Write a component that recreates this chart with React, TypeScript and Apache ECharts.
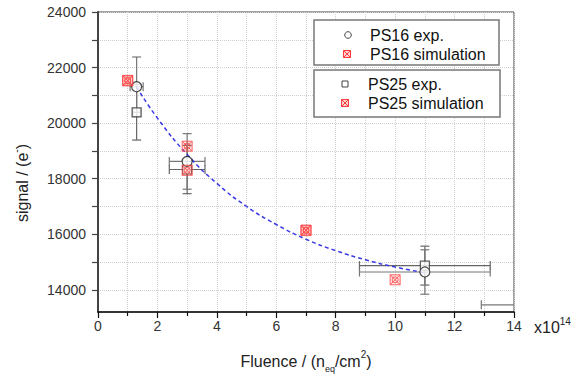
import React, { useEffect, useRef } from 'react';
import * as echarts from 'echarts';

const FONT = '"Liberation Sans", Arial, Helvetica, sans-serif';

// PS16 experimental (circles)
const ps16ExpX = [1.3, 3.0, 11.0];
const ps16ExpY = [21310, 18620, 14640];
const ps16ExpXErr = [0.22, 0.6, 2.2];
const ps16ExpYErr = [1070, 1000, 800];

// PS25 experimental (squares)
const ps25ExpX = [1.3, 3.0, 11.0];
const ps25ExpY = [20390, 18330, 14870];
const ps25ExpXErr = [0.13, 0.6, 2.2];
const ps25ExpYErr = [1000, 870, 700];

// point outside the axis range; only part of its error bar shows
const offX = [15.1];
const offY = [13460];
const offXErr = [2.2];
const offYErr = [0];

// simulations
const ps16SimX = [1.0, 3.0, 7.0, 10.0];
const ps16SimY = [21540, 19170, 16130, 14360];
const ps25SimX = [1.0, 3.0, 7.0];
const ps25SimY = [21520, 18300, 16150];

// dashed fit curve
const fitX = [1.3, 2, 3, 4, 5, 6, 7, 8, 9, 10, 11];
const fitY = [21300, 20180, 18870, 17830, 17000, 16350, 15820, 15410, 15080, 14820, 14610];

// axis ticks
const yTickValues = [14000, 15000, 16000, 17000, 18000, 19000, 20000, 21000, 22000, 23000, 24000];
const yLabelValues = [14000, 16000, 18000, 20000, 22000, 24000];

const zip = (xs: number[], ys: number[]) => xs.map((x, i) => [x, ys[i]]);
const zip4 = (a: number[], b: number[], c: number[], d: number[]) => a.map((x, i) => [x, b[i], c[i], d[i]]);

const SIM_PATH = 'path://M0,0L20,0L20,20L0,20Z M0,0L20,20 M20,0L0,20 M16,10A6,6,0,1,1,4,10A6,6,0,1,1,16,10Z';

function errorBarSeries(data: number[][], color: string) {
  return {
    type: 'custom',
    clip: true,
    z: 1,
    silent: true,
    encode: { x: 0, y: 1 },
    data,
    renderItem: (params: any, api: any) => {
      const x = api.value(0);
      const y = api.value(1);
      const xe = api.value(2);
      const ye = api.value(3);
      const style = { stroke: color, lineWidth: 1.2, fill: 'none' };
      const cap = 4.5;
      const children: any[] = [];
      if (ye > 0) {
        const t = api.coord([x, y + ye]);
        const b = api.coord([x, y - ye]);
        children.push({ type: 'line', shape: { x1: t[0], y1: t[1], x2: b[0], y2: b[1] }, style });
        children.push({ type: 'line', shape: { x1: t[0] - cap, y1: t[1], x2: t[0] + cap, y2: t[1] }, style });
        children.push({ type: 'line', shape: { x1: b[0] - cap, y1: b[1], x2: b[0] + cap, y2: b[1] }, style });
      }
      if (xe > 0) {
        const l = api.coord([x - xe, y]);
        const r = api.coord([x + xe, y]);
        children.push({ type: 'line', shape: { x1: l[0], y1: l[1], x2: r[0], y2: r[1] }, style });
        children.push({ type: 'line', shape: { x1: l[0], y1: l[1] - cap, x2: l[0], y2: l[1] + cap }, style });
        children.push({ type: 'line', shape: { x1: r[0], y1: r[1] - cap, x2: r[0], y2: r[1] + cap }, style });
      }
      return { type: 'group', children };
    },
  };
}

function simIcon(x: number, y: number, s: number) {
  const h = s / 2;
  const st = { stroke: '#ff3b3b', lineWidth: 1, fill: 'none' };
  return [
    { type: 'rect', z: 100, shape: { x: x - h, y: y - h, width: s, height: s }, style: { stroke: '#ff3b3b', lineWidth: 1, fill: 'rgba(255,80,80,0.25)' } },
    { type: 'line', z: 101, shape: { x1: x - h, y1: y - h, x2: x + h, y2: y + h }, style: st },
    { type: 'line', z: 101, shape: { x1: x + h, y1: y - h, x2: x - h, y2: y + h }, style: st },
  ];
}

export default function App() {
  const ref = useRef<HTMLDivElement>(null);

  useEffect(() => {
    if (!ref.current) return;
    const chart = echarts.init(ref.current, undefined, { renderer: 'svg' });
    const legendText = (x: number, y: number, t: string) => ({
      type: 'text',
      x,
      y,
      style: { text: t, font: `16px ${FONT}`, fill: '#111', align: 'left', verticalAlign: 'middle' },
      z: 100,
    });

    chart.setOption({
      animation: false,
      backgroundColor: '#fff',
      grid: { left: 98, right: 73, top: 12, bottom: 69, show: true, borderColor: '#444', borderWidth: 1, backgroundColor: 'transparent' },
      xAxis: {
        type: 'value',
        min: 0,
        max: 14,
        interval: 2,
        axisLine: { show: true, lineStyle: { color: '#111', width: 1.5 } },
        axisTick: { show: true, length: 6, lineStyle: { color: '#111', width: 1.2 } },
        minorTick: { show: true, splitNumber: 2, length: 4, lineStyle: { color: '#111', width: 1.2 } },
        axisLabel: { fontSize: 14, color: '#333', margin: 7, fontFamily: FONT },
        splitLine: { show: true, lineStyle: { color: '#cfcfcf', type: 'dotted', width: 1 } },
        minorSplitLine: { show: true, lineStyle: { color: '#cfcfcf', type: 'dotted', width: 1 } },
      },
      yAxis: {
        type: 'value',
        min: 13200,
        max: 24000,
        axisLine: { show: true, lineStyle: { color: '#444', width: 2 } },
        axisTick: { show: true, length: 6, customValues: yTickValues, lineStyle: { color: '#444', width: 1.2 } },
        axisLabel: {
          fontSize: 14,
          color: '#333',
          margin: 12,
          fontFamily: FONT,
          customValues: yLabelValues,
          formatter: (v: number) => String(v),
        },
        splitLine: { show: true, lineStyle: { color: '#cfcfcf', type: 'dotted', width: 1 } },
      },
      series: [
        errorBarSeries(zip4(ps25ExpX, ps25ExpY, ps25ExpXErr, ps25ExpYErr), '#666'),
        errorBarSeries(zip4(ps16ExpX, ps16ExpY, ps16ExpXErr, ps16ExpYErr), '#777'),
        errorBarSeries(zip4(offX, offY, offXErr, offYErr), '#777'),
        {
          type: 'line',
          name: 'fit',
          data: zip(fitX, fitY),
          smooth: true,
          showSymbol: false,
          symbol: 'none',
          z: 2,
          lineStyle: { color: '#3a3ae6', width: 1.5, type: [4, 3] },
        },
        {
          type: 'scatter',
          name: 'PS25 exp.',
          data: zip(ps25ExpX, ps25ExpY),
          symbol: 'rect',
          symbolSize: 9,
          z: 3,
          itemStyle: { color: '#fff', borderColor: '#333', borderWidth: 1.2 },
        },
        {
          type: 'scatter',
          name: 'PS16 exp.',
          data: zip(ps16ExpX, ps16ExpY),
          symbol: 'circle',
          symbolSize: 10,
          z: 3,
          itemStyle: { color: '#fff', borderColor: '#222', borderWidth: 1.2 },
        },
        {
          type: 'scatter',
          name: 'PS25 simulation',
          data: zip(ps25SimX, ps25SimY),
          symbol: SIM_PATH,
          symbolSize: 10,
          z: 4,
          itemStyle: { color: 'rgba(255,90,90,0.2)', borderColor: '#ff4444', borderWidth: 1 },
        },
        {
          type: 'scatter',
          name: 'PS16 simulation',
          data: zip(ps16SimX, ps16SimY),
          symbol: SIM_PATH,
          symbolSize: 10,
          z: 4,
          itemStyle: { color: 'rgba(255,90,90,0.2)', borderColor: '#ff4444', borderWidth: 1 },
        },
      ],
      graphic: [
        // legend boxes
        { type: 'rect', shape: { x: 314, y: 20, width: 185, height: 45 }, style: { fill: '#fff', stroke: '#777', lineWidth: 1.5 }, z: 90 },
        { type: 'rect', shape: { x: 314, y: 70, width: 186, height: 47 }, style: { fill: '#fff', stroke: '#777', lineWidth: 1.5 }, z: 90 },
        { type: 'circle', shape: { cx: 348, cy: 35, r: 3.3 }, style: { fill: '#fff', stroke: '#444', lineWidth: 1 }, z: 100 },
        ...simIcon(347, 54, 7),
        { type: 'rect', shape: { x: 342, y: 81, width: 6, height: 6 }, style: { fill: '#fff', stroke: '#444', lineWidth: 1 }, z: 100 },
        ...simIcon(345, 103, 7),
        legendText(370, 35, 'PS16 exp.'),
        legendText(370, 54, 'PS16 simulation'),
        legendText(368, 84, 'PS25 exp.'),
        legendText(368, 103, 'PS25 simulation'),
        // axis names
        {
          type: 'text',
          x: 306,
          y: 361,
          style: {
            text: '{a|Fluence / (n}{sub|eq}{a|/cm}{sup|2}{a|)}',
            align: 'center',
            verticalAlign: 'middle',
            rich: {
              a: { fontSize: 16, fontFamily: FONT, fill: '#222', lineHeight: 24 },
              sub: { fontSize: 9, fontFamily: FONT, fill: '#222', lineHeight: 9, verticalAlign: 'bottom' },
              sup: { fontSize: 10, fontFamily: FONT, fill: '#222', lineHeight: 10, verticalAlign: 'top' },
            },
          },
        },
        {
          type: 'text',
          x: 22,
          y: 183,
          rotation: Math.PI / 2,
          style: {
            text: '{a|signal / (e}{sup|-}{a|)}',
            align: 'center',
            verticalAlign: 'middle',
            rich: {
              a: { fontSize: 16, fontFamily: FONT, fill: '#222', lineHeight: 22 },
              sup: { fontSize: 10, fontFamily: FONT, fill: '#222', lineHeight: 10, verticalAlign: 'top' },
            },
          },
        },
        {
          type: 'text',
          x: 534,
          y: 327,
          style: {
            text: '{a|x10}{sup|14}',
            align: 'left',
            verticalAlign: 'middle',
            rich: {
              a: { fontSize: 16, fontFamily: FONT, fill: '#222', lineHeight: 22 },
              sup: { fontSize: 10, fontFamily: FONT, fill: '#222', lineHeight: 10, verticalAlign: 'top' },
            },
          },
        },
      ],
    });
    return () => chart.dispose();
  }, []);

  return <div ref={ref} style={{ position: 'absolute', left: 0, top: 0, width: 587, height: 381 }} />;
}
